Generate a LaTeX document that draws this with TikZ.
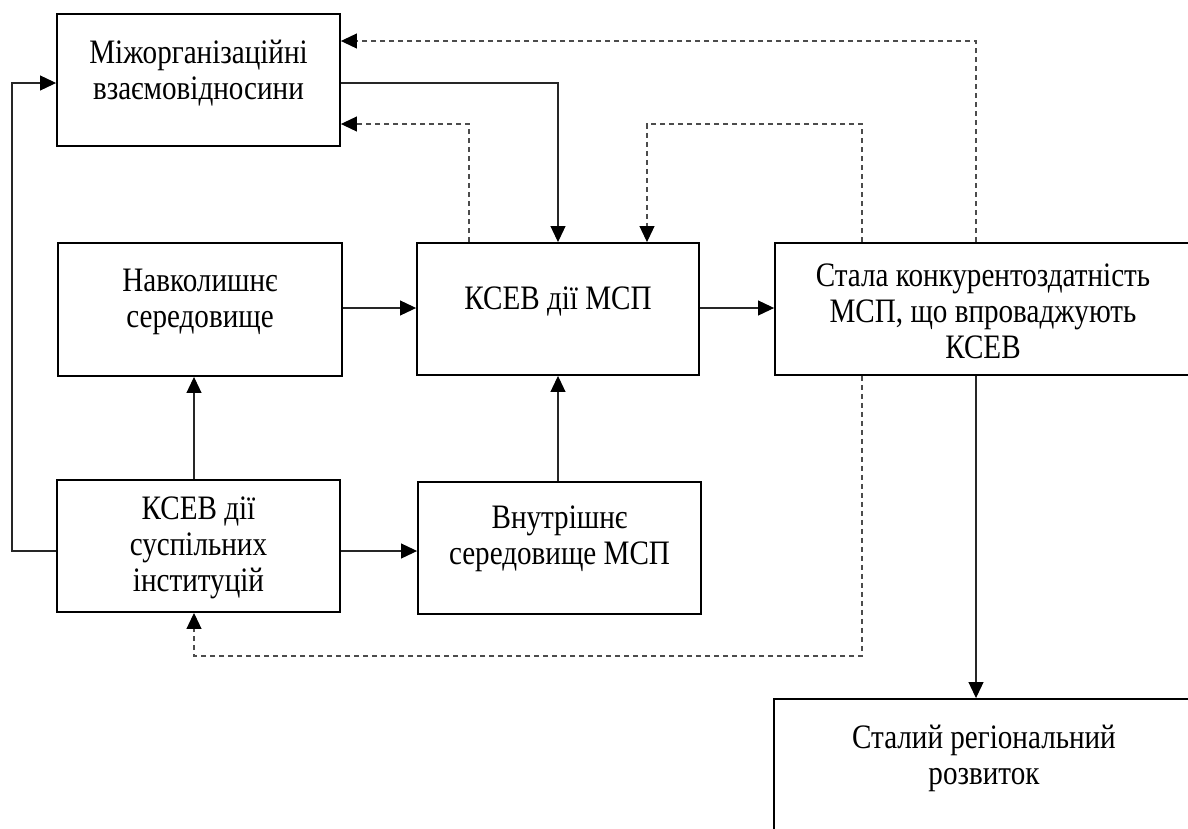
\documentclass[tikz,border=0pt]{standalone}
\usepackage{fontspec}
\setmainfont{Liberation Serif}[FakeStretch=0.85]
\usetikzlibrary{arrows.meta,calc}

\begin{document}
\begin{tikzpicture}[x=0.02cm, y=-0.02cm, >={Triangle[length=0.32cm, width=0.3cm, color=black]}]
		\tikzset{bx/.style={draw, line width=1.1pt, inner sep=0pt}}
		\tikzset{tx/.style={align=center, inner sep=0pt, font=\fontsize{19.5pt}{20.5pt}\selectfont}}
		\tikzset{ln/.style={->, line width=0.6pt, draw=black!85}}
		\tikzset{dl/.style={->, line width=0.6pt, draw=black!70, dash pattern=on 0.1cm off 0.08cm}}
		\useasboundingbox (0,0) rectangle (1188,829);
		\clip (0,0) rectangle (1188,829);
		% boxes
		\node[bx, minimum width=5.66cm, minimum height=2.64cm] (mizh) at (198.5,80) {};
		\node[bx, minimum width=5.68cm, minimum height=2.66cm] (navk) at (200,309.5) {};
		\node[bx, minimum width=5.64cm, minimum height=2.64cm] (ksev) at (558,309) {};
		\node[bx, minimum width=8.32cm, minimum height=2.64cm] (stala) at (983,309) {};
		\node[bx, minimum width=5.66cm, minimum height=2.64cm] (inst) at (198.5,546) {};
		\node[bx, minimum width=5.66cm, minimum height=2.64cm] (vnut) at (559.5,548) {};
		\node[bx, minimum width=8.40cm, minimum height=2.64cm] (rozv) at (984,765) {};
		% texts
		\node[tx] (mizh-t) at (198.5,73) {Міжорганізаційні\\взаємовідносини};
		\node[tx] (navk-t) at (200,302) {Навколишнє\\середовище};
		\node[tx] (ksev-t) at (558,301) {КСЕВ дії МСП};
		\node[tx] (stala-t) at (983,311) {Стала конкурентоздатність\\МСП, що впроваджують\\КСЕВ};
		\node[tx] (inst-t) at (198.5,548) {КСЕВ дії\\суспільних\\інституцій};
		\node[tx] (vnut-t) at (559.5,539) {Внутрішнє\\середовище МСП};
		\node[tx] (rozv-t) at (984,758) {Сталий регіональний\\розвиток};
		% bends
		\coordinate (c1) at (558,83);
		\coordinate (c2) at (12,551);
		\coordinate (c3) at (469,124);
		\coordinate (c4) at (976,41);
		\coordinate (c5) at (862,124);
		\coordinate (c6) at (647,124);
		\coordinate (c7) at (862,656);
		\coordinate (c8) at (194,656);
		% solid connectors
		\draw[ln] (mizh.east |- c1) -| (ksev.north);
		\draw[ln] (navk.east |- 0,308) -- (ksev.west |- 0,308);
		\draw[ln] (ksev.east |- 0,308) -- (stala.west |- 0,308);
		\draw[ln] (vnut.north -| ksev.south) -- (ksev.south);
		\draw[ln] (inst.north -| c8) -- (navk.south -| c8);
		\draw[ln] (inst.east |- c2) -- (vnut.west |- c2);
		\draw[ln] (inst.west |- c2) -- (c2) |- (mizh.west |- c1);
		\draw[ln] (stala.south -| c4) -- (rozv.north -| c4);
		% dashed feedback
		\draw[dl] (ksev.north -| c3) |- (mizh.east |- c3);
		\draw[dl] (stala.north -| c4) |- (mizh.east |- c4);
		\draw[dl] (stala.north -| c5) |- (c6) -- (ksev.north -| c6);
		\draw[dl] (stala.south -| c7) -- (c7) -| (inst.south -| c8);
	\end{tikzpicture}
\end{document}
